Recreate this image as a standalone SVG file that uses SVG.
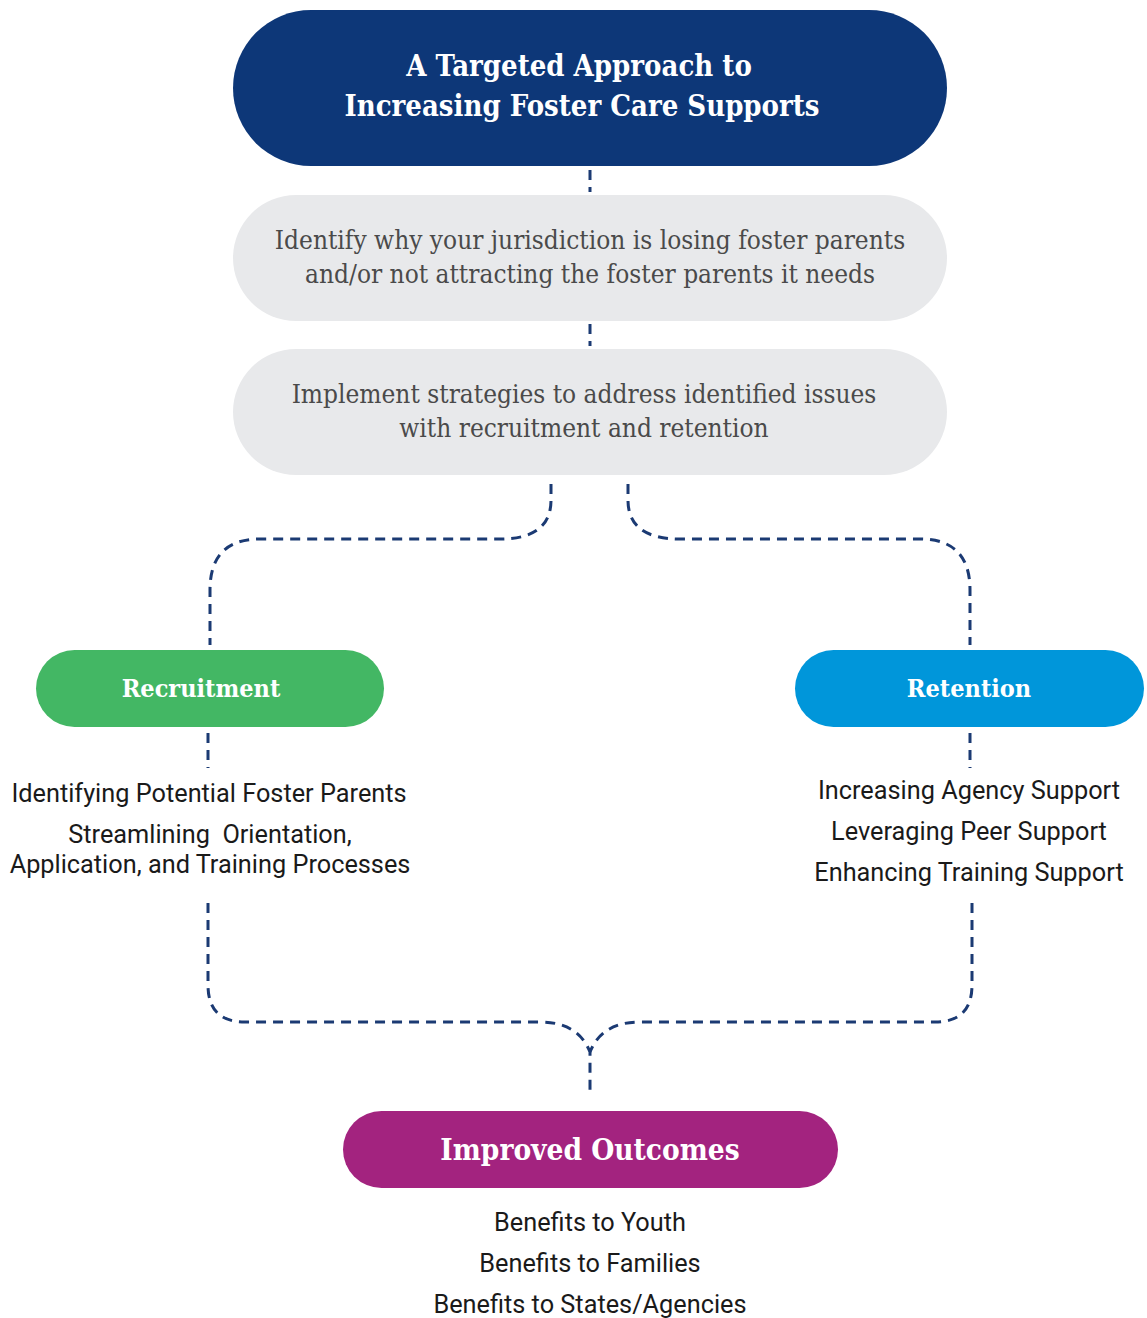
<svg xmlns="http://www.w3.org/2000/svg" width="1147" height="1318" viewBox="0 0 1147 1318">
<style>
.slab{font-family:"DejaVu Serif Condensed","DejaVu Serif","Liberation Serif",serif;}
.title{font-size:29px;font-weight:bold;fill:#ffffff;}
.gray{font-size:26px;fill:#4a4a4a;}
.pilltxt{font-size:25px;font-weight:bold;fill:#ffffff;}
.body{font-family:"Roboto","Liberation Sans",sans-serif;font-size:25.3px;fill:#1a1a1a;}
.dash{fill:none;stroke:#1b3a73;stroke-width:3;stroke-dasharray:10 7;}
</style>
<g id="title">
<rect x="233" y="10" width="714" height="156" rx="78" fill="#0d3778"/>
<text class="slab title" x="579" y="76" text-anchor="middle">A Targeted Approach to</text>
<text class="slab title" x="582" y="116" text-anchor="middle">Increasing Foster Care Supports</text>
</g>
<g id="identify">
<rect x="233" y="195" width="714" height="126" rx="63" fill="#e8e9eb"/>
<text class="slab gray" x="590" y="249" text-anchor="middle">Identify why your jurisdiction is losing foster parents</text>
<text class="slab gray" x="590" y="283" text-anchor="middle">and/or not attracting the foster parents it needs</text>
</g>
<g id="implement">
<rect x="233" y="349" width="714" height="126" rx="63" fill="#e8e9eb"/>
<text class="slab gray" x="584" y="403" text-anchor="middle">Implement strategies to address identified issues</text>
<text class="slab gray" x="584" y="437" text-anchor="middle">with recruitment and retention</text>
</g>
<g id="recruitment">
<rect x="36" y="650" width="348" height="77" rx="38.5" fill="#43b764"/>
<text class="slab pilltxt" x="201" y="697" text-anchor="middle">Recruitment</text>
<text class="body" x="209" y="802" text-anchor="middle">Identifying Potential Foster Parents</text>
<text class="body" x="210" y="843" text-anchor="middle">Streamlining&#160; Orientation,</text>
<text class="body" x="210" y="873" text-anchor="middle">Application, and Training Processes</text>
</g>
<g id="retention">
<rect x="795" y="650" width="349" height="77" rx="38.5" fill="#0096da"/>
<text class="slab pilltxt" x="969" y="697" text-anchor="middle">Retention</text>
<text class="body" x="969" y="799" text-anchor="middle">Increasing Agency Support</text>
<text class="body" x="969" y="840" text-anchor="middle">Leveraging Peer Support</text>
<text class="body" x="969" y="881" text-anchor="middle">Enhancing Training Support</text>
</g>
<g id="outcomes">
<rect x="343" y="1111" width="495" height="77" rx="38.5" fill="#a3237f"/>
<text class="slab pilltxt" x="590" y="1160" text-anchor="middle" style="font-size:29.5px">Improved Outcomes</text>
<text class="body" x="590" y="1231" text-anchor="middle">Benefits to Youth</text>
<text class="body" x="590" y="1272" text-anchor="middle">Benefits to Families</text>
<text class="body" x="590" y="1313" text-anchor="middle">Benefits to States/Agencies</text>
</g>
<g id="connectors">
<path class="dash" d="M590 170 V192"/>
<path class="dash" d="M590 324 V346"/>
<path class="dash" d="M551 484 V500 Q551 539 500 539 H260 Q210 539 210 590 V645"/>
<path class="dash" d="M628 484 V500 Q628 539 680 539 H920 Q970 539 970 590 V645"/>
<path class="dash" d="M208 733 V768"/>
<path class="dash" d="M970 733 V768"/>
<path class="dash" d="M208 903 V985 Q208 1022 245 1022 H540 Q578 1022 590 1052 V1095"/>
<path class="dash" d="M972 903 V985 Q972 1022 935 1022 H640 Q602 1022 590 1052"/>
</g>
</svg>
